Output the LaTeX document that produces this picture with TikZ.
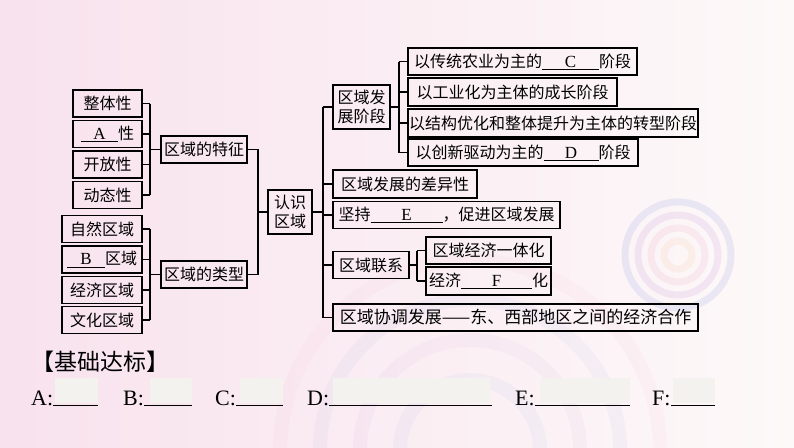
\documentclass[tikz,border=0pt]{standalone}
\usepackage{fontspec}
\setmainfont{Liberation Serif}
\newfontfamily\cjk{Noto Sans CJK SC}
\usetikzlibrary{calc}
\definecolor{bgpink}{RGB}{248,226,237}
\definecolor{bgwhite}{RGB}{253,249,249}
\definecolor{ringblue}{RGB}{150,160,225}
\definecolor{ringpurple}{RGB}{200,150,215}
\definecolor{ringorange}{RGB}{250,200,160}
\definecolor{ringpink}{RGB}{240,170,200}
\definecolor{maskgray}{RGB}{243,242,239}
\newcommand\blankfill[2]{\makebox[#1pt]{\rmfamily\fontsize{17}{19}\selectfont #2}\llap{\rule[-2.5pt]{#1pt}{0.9pt}}}
\tikzset{
  bx/.style={draw=black, line width=1.2pt, inner sep=0pt, minimum height=27pt,
    font=\cjk\fontsize{16}{19}\selectfont, align=center},
  ln/.style={draw=black, line width=1.2pt},
  ans/.style={inner sep=0pt, anchor=base west, font=\rmfamily\fontsize{22}{24}\selectfont},
  ansline/.style={draw=black, line width=0.8pt},
  mask/.style={fill=maskgray, draw=none},
  ring/.style={line width=7pt, opacity=0.18}
}
\begin{document}
\begin{tikzpicture}[x=1pt,y=-1pt]
\useasboundingbox (0,0) rectangle (794,447);
% background
\shade[left color=bgpink, right color=bgwhite] (0,0) rectangle (794,447);
\foreach \r/\c in {14/ringorange,27/ringpink,40/ringpurple,53/ringblue}
  \draw[ring, draw=\c] (678,255) circle (\r);
\foreach \r/\c in {70/ringblue,110/ringpurple,150/ringblue,190/ringpink}
  \draw[ring, draw=\c, opacity=0.07, line width=14pt] (470,450) circle (\r);

% left group 1
\node[bx, minimum width=69pt] (zt) at (107.5,103.5) {整体性};
\node[bx, minimum width=69pt] (a)  at (107.5,134) {\blankfill{37}{A}性};
\node[bx, minimum width=69pt] (kf) at (107.5,164.5) {开放性};
\node[bx, minimum width=69pt] (dt) at (107.5,195) {动态性};
% left group 2
\node[bx, minimum width=80pt] (zr) at (102,229) {自然区域};
\node[bx, minimum width=80pt] (b)  at (102,259.5) {\blankfill{38}{B}区域};
\node[bx, minimum width=80pt] (jj) at (102,290) {经济区域};
\node[bx, minimum width=80pt] (wh) at (102,320) {文化区域};
% middle
\node[bx, minimum width=86pt] (tz) at (204,149.5) {区域的特征};
\node[bx, minimum width=86pt] (lx) at (204,274.5) {区域的类型};
\node[bx, minimum width=44pt, minimum height=44pt] (rs) at (290,212) {认识\\区域};
% right
\node[bx, minimum width=57pt, minimum height=44pt] (jd) at (361.5,107) {区域发\\展阶段};
\node[bx, minimum width=229pt] (c)  at (522.5,61.5) {以传统农业为主的\blankfill{57}{C}阶段};
\node[bx, minimum width=209pt, minimum height=28pt] (gy) at (512.5,92) {以工业化为主体的成长阶段};
\node[bx, minimum width=290pt, minimum height=28pt] (jg) at (553,123) {以结构优化和整体提升为主体的转型阶段};
\node[bx, minimum width=230pt] (d)  at (523,152.5) {以创新驱动为主的\blankfill{55}{D}阶段};
\node[bx, minimum width=144pt, minimum height=28pt] (cy) at (405,184) {区域发展的差异性};
\node[bx, minimum width=227pt] (e)  at (446.5,215) {坚持\blankfill{72}{E}，促进区域发展};
\node[bx, minimum width=76pt] (lxi) at (371,265) {区域联系};
\node[bx, minimum width=125pt] (yt) at (488.5,250.5) {区域经济一体化};
\node[bx, minimum width=125pt, minimum height=28pt] (f) at (488.5,281) {经济\blankfill{71}{F}化};
\node[bx, minimum width=365pt, font=\cjk\fontsize{17}{19}\selectfont] (xt) at (515.5,317.5) {区域协调发展——东、西部地区之间的经济合作};

% spines
\coordinate (s1) at (150,0);
\coordinate (s3) at (258,0);
\coordinate (s4) at (323,0);
\coordinate (s5) at (399,0);
\coordinate (s6) at (417,0);

% group 1
\foreach \n in {zt,a,kf,dt} \draw[ln] (\n.east) -- (\n.east -| s1);
\draw[ln] (zt.east -| s1) -- (dt.east -| s1);
\draw[ln] (s1 |- tz.west) -- (tz.west);
% group 2
\foreach \n in {zr,b,jj,wh} \draw[ln] (\n.east) -- (\n.east -| s1);
\draw[ln] (zr.east -| s1) -- (wh.east -| s1);
\draw[ln] (s1 |- lx.west) -- (lx.west);
% to center
\draw[ln] (tz.east) -- (tz.east -| s3) -- (lx.east -| s3) -- (lx.east);
\draw[ln] (s3 |- rs.west) -- (rs.west);
% main spine
\draw[ln] (rs.east) -- (rs.east -| s4);
\draw[ln] (jd.west -| s4) -- (xt.west -| s4);
\foreach \n in {jd,cy,e,lxi,xt} \draw[ln] (\n.west -| s4) -- (\n.west);
% stages
\draw[ln] (jd.east) -- (jd.east -| s5);
\draw[ln] (c.west -| s5) -- (d.west -| s5);
\foreach \n in {c,gy,jg,d} \draw[ln] (\n.west -| s5) -- (\n.west);
% links
\draw[ln] (lxi.east) -- (lxi.east -| s6);
\draw[ln] (yt.west -| s6) -- (f.west -| s6);
\foreach \n in {yt,f} \draw[ln] (\n.west -| s6) -- (\n.west);

% bottom
\node[inner sep=0pt, anchor=west, font=\cjk\fontsize{23}{25}\selectfont] (jc) at (31,362) {【基础达标】};
\fill[mask] (55,378) rectangle (98,403);
\fill[mask] (150,378) rectangle (192,403);
\fill[mask] (240,378) rectangle (283,403);
\fill[mask] (333,378) rectangle (490,403);
\fill[mask] (540,378) rectangle (630,403);
\fill[mask] (673,378) rectangle (715,403);
\node[ans] (la) at (31,405) {A:};
\node[ans] (lb) at (123,405) {B:};
\node[ans] (lc) at (215,405) {C:};
\node[ans] (ld) at (307,405) {D:};
\node[ans] (le) at (515,405) {E:};
\node[ans] (lf) at (652,405) {F:};
\draw[ansline] (la.base east) -- (98,405);
\draw[ansline] (lb.base east) -- (192,405);
\draw[ansline] (lc.base east) -- (283,405);
\draw[ansline] (ld.base east) -- (492,405);
\draw[ansline] (le.base east) -- (630,405);
\draw[ansline] (lf.base east) -- (715,405);
\end{tikzpicture}
\end{document}
